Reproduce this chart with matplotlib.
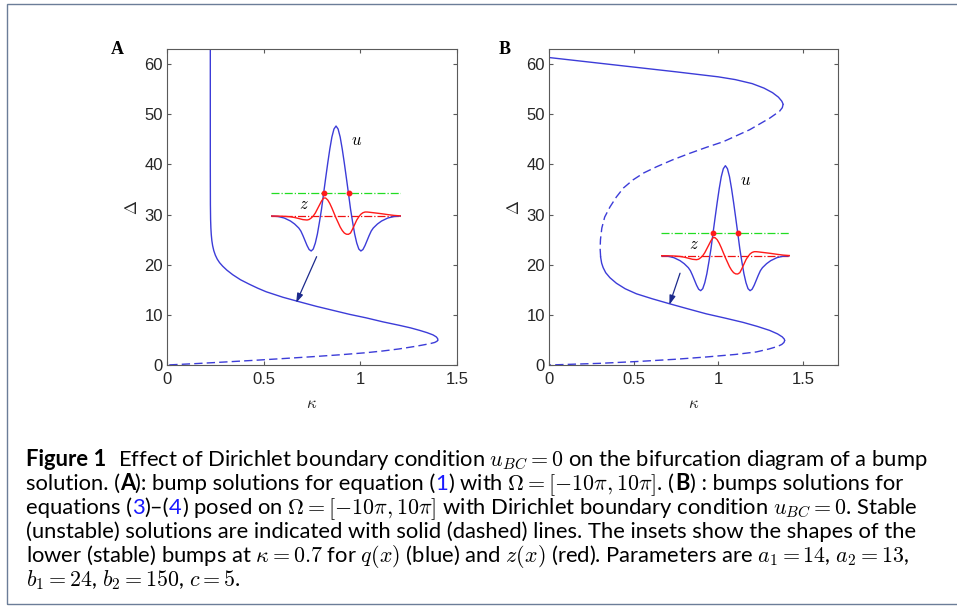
"""
Bump-solution bifurcation diagrams (panel A: free domain, panel B: Dirichlet BC),
with the bump-shape insets and the figure caption underneath.
"""
import matplotlib
matplotlib.use("Agg")
import matplotlib.pyplot as plt
from matplotlib.patches import Rectangle

plt.rcParams["mathtext.fontset"] = "cm"

W, H = 957, 607

# ---- panel A: kappa / Delta branch ----
A_SOLID_K = [0.224, 0.224, 0.2245, 0.2255, 0.227, 0.229, 0.232, 0.236, 0.242, 0.250,
             0.260, 0.272, 0.288, 0.310, 0.340, 0.380, 0.426, 0.470, 0.513, 0.600,
             0.685, 0.772, 0.858, 0.944, 1.030, 1.117, 1.203, 1.260, 1.307, 1.345,
             1.376, 1.393, 1.400, 1.401]
A_SOLID_D = [63.0, 40.0, 32.0, 29.0, 27.3, 26.0, 24.8, 23.8, 22.8, 21.9,
             21.1, 20.4, 19.7, 18.9, 18.0, 17.0, 16.1, 15.3, 14.6, 13.5,
             12.6, 11.7, 10.9, 10.1, 9.4, 8.6, 7.9, 7.4, 6.9, 6.45,
             6.0, 5.6, 5.25, 5.0]
A_DASH_K = [1.401, 1.397, 1.385, 1.360, 1.290, 1.200, 1.117, 1.030, 0.900, 0.750,
            0.600, 0.450, 0.300, 0.150, 0.0]
A_DASH_D = [5.0, 4.75, 4.5, 4.25, 3.75, 3.2, 2.8, 2.45, 2.05, 1.65,
            1.28, 0.93, 0.6, 0.28, 0.0]

# ---- panel B: S-shaped branch ----
B_TOP_K = [0.0, 0.25, 0.50, 0.75, 1.00, 1.10, 1.20, 1.27, 1.32, 1.355, 1.375, 1.383]
B_TOP_D = [61.3, 60.35, 59.4, 58.45, 57.45, 56.9, 56.1, 55.2, 54.3, 53.4, 52.6, 52.0]
B_MID_K = [1.383, 1.378, 1.362, 1.303, 1.185, 1.028, 0.930, 0.831, 0.730, 0.634,
           0.560, 0.496, 0.440, 0.398, 0.360, 0.329, 0.312, 0.304, 0.302, 0.305]
B_MID_D = [52.0, 51.3, 50.6, 49.2, 46.9, 44.5, 43.4, 42.2, 40.9, 39.5,
           38.3, 36.9, 35.3, 33.5, 31.5, 29.5, 27.3, 25.0, 23.2, 21.5]
B_LOW_K = [0.305, 0.311, 0.320, 0.335, 0.360, 0.398, 0.450, 0.516, 0.610, 0.713,
           0.820, 0.929, 1.040, 1.146, 1.230, 1.303, 1.350, 1.378, 1.390, 1.392]
B_LOW_D = [21.5, 20.3, 19.4, 18.4, 17.4, 16.3, 15.2, 14.2, 13.2, 12.2,
           11.2, 10.2, 9.35, 8.5, 7.7, 6.9, 6.2, 5.6, 5.15, 4.9]
B_BOT_K = [1.392, 1.388, 1.375, 1.350, 1.300, 1.224, 1.100, 0.929, 0.750, 0.535, 0.300, 0.0]
B_BOT_D = [4.9, 4.5, 4.1, 3.7, 3.2, 2.6, 2.1, 1.6, 1.15, 0.72, 0.33, 0.0]

# ---- inset: stable bump shapes at kappa = 0.7 (x on [-10pi, 10pi]) ----
U_X = [-31.4, -28, -25, -22, -20, -18, -17, -16, -15, -14, -13, -12, -11, -10, -9,
       -8, -7, -6, -5, -4, -3, -2, -1, 0, 1, 2, 3, 4, 5, 6, 7, 8,
       9, 10, 11, 12, 13, 14, 15, 16, 17, 18, 20, 22, 25, 28, 31.4]
U_Y = [0, -0.5, -2, -5, -8, -12, -15, -19.5, -24.5, -29.5, -33.5, -35, -33, -27, -18,
       -6, 7, 22.7, 38, 53, 67, 79, 87, 90, 87, 79, 67, 53, 38, 22.7, 7, -6,
       -18, -27, -33, -35, -33.5, -29.5, -24.5, -19.5, -15, -12, -8, -5, -2, -0.5, 0]
Z_X = [-31.4, -28, -25, -22, -20, -18, -16, -14, -13, -12, -11, -10, -9, -8, -7,
       -6, -5, -4, -3, -2, -1, 0, 1, 2, 3, 4, 5, 6, 7, 8,
       9, 10, 11, 12, 13, 14, 15, 16, 18, 20, 22, 25, 28, 31.4]
Z_Y = [0, -0.1, -0.3, -0.8, -1.5, -2.5, -3.6, -4, -3.5, -2, 0, 3, 7, 11, 15,
       18, 18, 16, 12.5, 8, 3, -2, -6.5, -11, -14.5, -17, -18.2, -18.3, -17, -13,
       -8.5, -4, -0.8, 1.8, 3.3, 4, 4, 3.8, 3.3, 2.8, 2.3, 1.4, 0.6, 0.1]
THRESHOLD = 22.7
CROSS_X = [-5.8, 6.1]
INSET_XLIM = (-31.4, 31.4)
INSET_YLIM = (-40, 95)

X_TICKS = [0, 0.5, 1, 1.5]
X_TICKLABELS = ["0", "0.5", "1", "1.5"]
Y_TICKS = [0, 10, 20, 30, 40, 50, 60]

CAPTION_LINES = [
    [("Figure 1", "b"), "  ",
     ("Effect of Dirichlet boundary condition $u_{BC}=0$ on the bifurcation diagram of a bump", "n")],
    [("solution. (", "n"), ("A", "b"), ("): bump solutions for equation (", "n"), ("1", "r"),
     (r") with $\Omega=[-10\pi,10\pi]$. (", "n"), ("B", "b"), (") : bumps solutions for", "n")],
    [("equations (", "n"), ("3", "r"), (")\u2013(", "n"), ("4", "r"),
     (r") posed on $\Omega=[-10\pi,10\pi]$ with Dirichlet boundary condition $u_{BC}=0$. Stable", "n")],
    [("(unstable) solutions are indicated with solid (dashed) lines. The insets show the shapes of the", "n")],
    [(r"lower (stable) bumps at $\kappa=0.7$ for $q(x)$ (blue) and $z(x)$ (red). Parameters are $a_1=14$, $a_2=13$,", "n")],
    [("$b_1=24$, $b_2=150$, $c=5$.", "n")],
]

CURVE = "#3c3cd8"
ARROW = "#1c2a8c"
AXES_GREY = "#5a5a5a"
TICK_TEXT = "#262626"
DASHES = (0, (6, 3))


def px_box(left, top, right, bottom):
    return [left / W, 1 - bottom / H, (right - left) / W, (bottom - top) / H]


def style_axes(ax, xlim):
    ax.set_xlim(*xlim)
    ax.set_ylim(0, 63)
    ax.set_xticks(X_TICKS)
    ax.set_xticklabels(X_TICKLABELS)
    ax.set_yticks(Y_TICKS)
    ax.tick_params(direction="in", top=True, right=True, length=3, width=0.8,
                   color=AXES_GREY, labelsize=12, labelcolor=TICK_TEXT)
    ax.tick_params(axis="x", pad=5)
    ax.tick_params(axis="y", pad=3)
    for lab in ax.get_xticklabels() + ax.get_yticklabels():
        lab.set_family("Liberation Sans")
    for sp in ax.spines.values():
        sp.set_color(AXES_GREY)
        sp.set_linewidth(0.8)
    ax.set_xlabel(r"$\kappa$", fontsize=12, color=TICK_TEXT)
    ax.set_ylabel(r"$\Delta$", fontsize=12, color=TICK_TEXT)
    ax.xaxis.label.set_va("center")
    ax.yaxis.label.set_va("center")
    ax.xaxis.set_label_coords(0.5, -0.12)
    ax.yaxis.set_label_coords(-0.122, 0.5)


def draw_inset(ax, bounds):
    ins = ax.inset_axes(bounds, transform=ax.transData, zorder=5)
    ins.patch.set_alpha(0)
    ins.axis("off")
    ins.set_xlim(*INSET_XLIM)
    ins.set_ylim(*INSET_YLIM)
    ins.plot(INSET_XLIM, [THRESHOLD, THRESHOLD], color="#22dd22", lw=0.9, ls="-.")
    ins.plot(INSET_XLIM, [0, 0], color="#ee1111", lw=0.9, ls="-.")
    ins.plot(U_X, U_Y, color=CURVE, lw=1.0)
    ins.plot(Z_X, Z_Y, color="#ff1a1a", lw=1.0)
    ins.plot(CROSS_X, [THRESHOLD] * len(CROSS_X), "o", color="#ff1a1a", ms=3.2)
    ins.text(9.7, 76, "$u$", fontsize=12, ha="center", va="center")
    ins.text(-15.5, 12, "$z$", fontsize=12, ha="center", va="center")
    return ins


fig = plt.figure(figsize=(W / 100, H / 100), dpi=100)

# outer frame of the figure box (right edge cropped in the reference)
fig.patches.append(Rectangle((7 / W, 1 - 604 / H), 960 / W, 600 / H,
                             transform=fig.transFigure, fill=False,
                             edgecolor="#6b7d98", lw=1.0))

# Panel A
ax_a = fig.add_axes(px_box(167, 49, 457, 365))
ax_a.plot(A_SOLID_K, A_SOLID_D, color=CURVE, lw=1.0)
ax_a.plot(A_DASH_K, A_DASH_D, color=CURVE, lw=1.0, ls=DASHES)
style_axes(ax_a, (0, 1.5))
draw_inset(ax_a, [0.538, 21.73, 0.6726, 26.91])
ax_a.annotate("", xy=(0.668, 12.4), xytext=(0.774, 21.6),
              arrowprops=dict(arrowstyle="-|>,head_length=0.55,head_width=0.18",
                              color=ARROW, lw=0.9, shrinkA=0, shrinkB=0))
fig.text(117.5 / W, 1 - 49.5 / H, "A", family="Liberation Serif", weight="bold",
         fontsize=13, ha="center", va="center")

# Panel B
ax_b = fig.add_axes(px_box(549, 49, 838, 365))
ax_b.plot(B_TOP_K, B_TOP_D, color=CURVE, lw=1.0)
ax_b.plot(B_MID_K, B_MID_D, color=CURVE, lw=1.0, ls=DASHES)
ax_b.plot(B_LOW_K, B_LOW_D, color=CURVE, lw=1.0)
ax_b.plot(B_BOT_K, B_BOT_D, color=CURVE, lw=1.0, ls=DASHES)
style_axes(ax_b, (0, 1.707))
draw_inset(ax_b, [0.66, 13.82, 0.7637, 26.91])
ax_b.annotate("", xy=(0.711, 12.0), xytext=(0.774, 18.3),
              arrowprops=dict(arrowstyle="-|>,head_length=0.55,head_width=0.18",
                              color=ARROW, lw=0.9, shrinkA=0, shrinkB=0))
fig.text(505 / W, 1 - 49.5 / H, "B", family="Liberation Serif", weight="bold",
         fontsize=13, ha="center", va="center")

# Caption
CAP_FONT = "Lato"
CAP_LEFT = 26
CAP_BASE0 = 466
CAP_STEP = 24
CAP_LINE1_WIDTH = 900
STYLES = {"n": dict(color="black"),
          "b": dict(color="black", weight="bold"),
          "r": dict(color="#1a1aff")}


def layout_caption(size):
    r = fig.canvas.get_renderer()
    p1 = fig.text(0, 0, "a a", fontsize=size, family=CAP_FONT)
    p2 = fig.text(0, 0, "aa", fontsize=size, family=CAP_FONT)
    space = p1.get_window_extent(r).width - p2.get_window_extent(r).width
    p1.remove()
    p2.remove()
    artists, widths = [], []
    for i, line in enumerate(CAPTION_LINES):
        x = CAP_LEFT
        y = CAP_BASE0 + i * CAP_STEP
        for tok in line:
            if isinstance(tok, str):
                x += space * len(tok)
                continue
            txt, st = tok
            t = fig.text(x / W, 1 - y / H, txt, fontsize=size, family=CAP_FONT,
                         ha="left", va="baseline", **STYLES[st])
            x += t.get_window_extent(r).width
            artists.append(t)
        widths.append(x - CAP_LEFT)
    return artists, widths


arts, widths = layout_caption(12)
for a in arts:
    a.remove()
layout_caption(12 * CAP_LINE1_WIDTH / widths[0])

fig.savefig("out.png", dpi=100)
